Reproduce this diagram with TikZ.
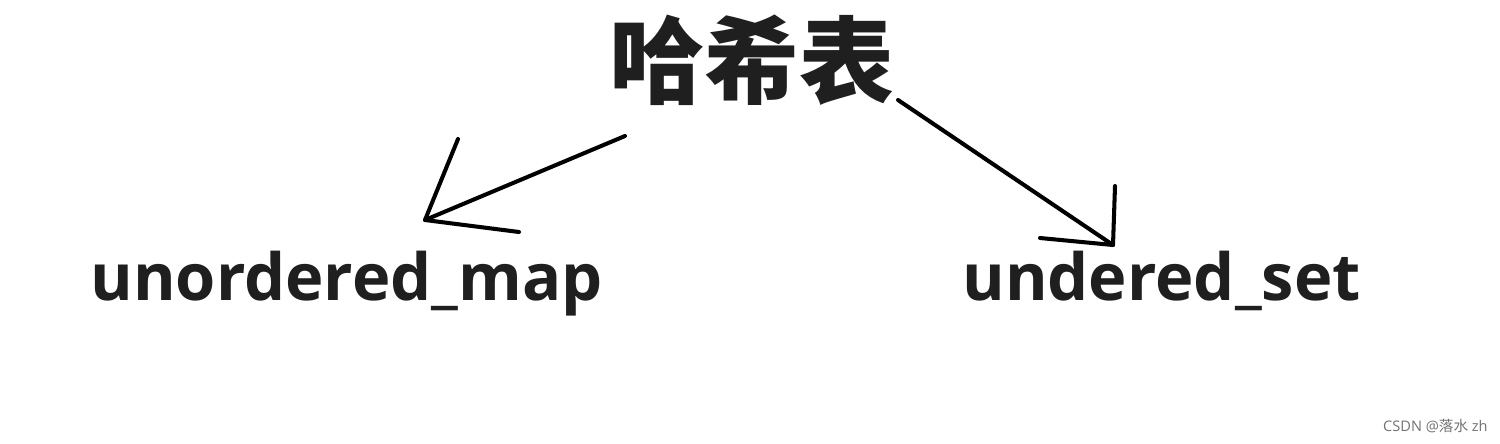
\documentclass[tikz,border=0pt]{standalone}
\usepackage{fontspec}
\setmainfont{Open Sans}
\newfontfamily\cjk{Noto Sans CJK SC}

\begin{document}
\begin{tikzpicture}[x=0.02cm,y=-0.02cm]
\tikzset{
  pen/.style={line width=2.3pt,line cap=round,line join=round},
  word/.style={inner sep=0pt,font=\bfseries\fontsize{37}{37}\selectfont,text=black!88},
}
\useasboundingbox[fill=white] (0,0) rectangle (1500,443);

% title and the two containers
\node[inner sep=0pt,font=\cjk\bfseries\fontsize{54}{54}\selectfont,text=black!88] (hash) at (752,60) {哈希表};
\node[word,anchor=base west] (umap) at (90,300) {unordered\_map};
\node[word,anchor=base west] (uset) at (962,300) {undered\_set};

% left arrow
\coordinate (lstart) at (625,136);
\coordinate (ltip) at (425,220);
\coordinate (lheadA) at (458,139);
\coordinate (lheadB) at (519,232);
\draw[pen] (lstart) -- (ltip);
\draw[pen] (lheadA) -- (ltip) -- (lheadB);

% right arrow
\coordinate (rstart) at (898,100);
\coordinate (rtip) at (1113,245);
\coordinate (rheadA) at (1115,186);
\coordinate (rheadB) at (1040,238);
\draw[pen] (rstart) -- (rtip);
\draw[pen] (rheadA) -- (rtip) -- (rheadB);

\node[anchor=east,inner sep=0pt,text=black!55,font=\fontsize{8.3}{9}\selectfont] (mark) at (1488,426) {CSDN @{\cjk 落水} zh};
\end{tikzpicture}
\end{document}
